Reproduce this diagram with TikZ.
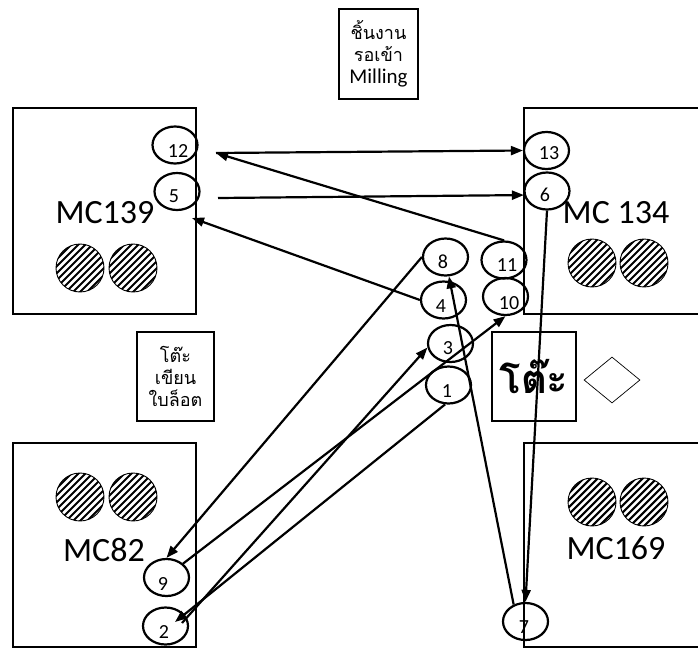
\documentclass[tikz,border=0pt]{standalone}
\usepackage{fontspec}
\setmainfont{Carlito}
\newfontfamily\thai[Script=Thai]{Loma}
\usetikzlibrary{arrows.meta,shapes.geometric}
\newcommand\hatchc[2]{%
  \begin{scope}
    \clip (#1,#2) circle[radius=24];
    \foreach \d in {-60,-53,...,60}{\draw[line width=2.1pt] ({#1+\d-30},{#2+30}) -- ({#1+\d+30},{#2-30});}
  \end{scope}
  \draw[line width=0.9pt] (#1,#2) circle[radius=24];}
\begin{document}
\begin{tikzpicture}[x=1pt,y=-1pt,
  mbox/.style={draw,line width=2.4pt,inner sep=0pt},
  numell/.style={draw,ellipse,line width=2.2pt,minimum width=45pt,minimum height=37pt,inner sep=0pt},
  numtxt/.style={font=\fontsize{20}{20}\selectfont,inner sep=0pt},
  mclabel/.style={font=\fontsize{34}{34}\selectfont,inner sep=0pt},
  thaibox/.style={mbox,align=center,font=\thai\fontsize{18}{22}\selectfont},
  conn/.style={line width=2.2pt,-{Triangle[length=12pt,width=9pt]}}]
\useasboundingbox (0,0) rectangle (698,650);
\clip (0,0) rectangle (698,650);
% machine boxes
\node[mbox,minimum width=183pt,minimum height=206pt] (b139) at (104.5,211) {};
\node[mbox,minimum width=186pt,minimum height=206pt] (b134) at (617,211) {};
\node[mbox,minimum width=183pt,minimum height=204pt] (b82) at (104.5,545) {};
\node[mbox,minimum width=186pt,minimum height=204pt] (b169) at (617,545) {};
% labels
\node[mclabel] (l139) at (105,213) {MC139};
\node[mclabel] (l134) at (616,213) {MC 134};
\node[mclabel] (l82) at (104,550) {MC82};
\node[mclabel] (l169) at (616,548) {MC169};
% hatched circles
\hatchc{80}{268}\hatchc{133}{268}
\hatchc{592}{263}\hatchc{644}{263}
\hatchc{80}{497}\hatchc{133}{497}
\hatchc{592}{502}\hatchc{644}{502}
% other boxes
\node[thaibox,minimum width=79pt,minimum height=90pt] (mill) at (378.5,54) {ชิ้นงาน\\รอเข้า\\{\fontspec{Carlito}\fontsize{21}{22}\selectfont Milling}};
\node[thaibox,minimum width=77pt,minimum height=89pt] (tab1) at (175.5,376.5) {โต๊ะ\\เขียน\\ใบล็อต};
\node[mbox,minimum width=84pt,minimum height=89pt,font=\thai\bfseries\fontsize{40}{40}\selectfont] (tab2) at (534,376.5) {โต๊ะ};
\node[draw,diamond,line width=0.7pt,minimum width=56pt,minimum height=46pt,inner sep=0pt] (dia) at (612,380) {};
% numbered ellipses
\node[numell] (n12) at (175,145) {};
\node[numell] (n5) at (177,191.5) {};
\node[numell] (n13) at (546.5,150.5) {};
\node[numell] (n6) at (547,191) {};
\node[numell] (n8) at (445.5,257) {};
\node[numell] (n11) at (504,260) {};
\node[numell] (n4) at (443.5,300) {};
\node[numell] (n10) at (505.5,296.5) {};
\node[numell] (n3) at (450.5,343.5) {};
\node[numell] (n1) at (448.5,385) {};
\node[numell] (n9) at (166.5,577.5) {};
\node[numell] (n2) at (165.5,626) {};
\node[numell] (n7) at (525.5,621.5) {};
\node[numtxt] (t12) at (178,151) {12};
\node[numtxt] (t5) at (174,196) {5};
\node[numtxt] (t13) at (549,153) {13};
\node[numtxt] (t6) at (545,195) {6};
\node[numtxt] (t8) at (443,262) {8};
\node[numtxt] (t11) at (507,265) {11};
\node[numtxt] (t4) at (441,306) {4};
\node[numtxt] (t10) at (509,303) {10};
\node[numtxt] (t3) at (448,348) {3};
\node[numtxt] (t1) at (447,391) {1};
\node[numtxt] (t9) at (163,584) {9};
\node[numtxt] (t2) at (164,632) {2};
\node[numtxt] (t7) at (524,627) {7};
% connector free ends
\coordinate (p12) at (216,153);
\coordinate (p5) at (218,198);
\coordinate (q5) at (192,218);
\coordinate (p2a) at (175,622);
\coordinate (p2b) at (182,623);
% connectors
\draw[conn] (n1.-100) -- (p2a);
\draw[conn] (p2b) -- (n3.190);
\draw[conn] (n4.west) -- (q5);
\draw[conn] (p5) -- (n6.190);
\draw[conn] (n6.south) -- (n7.north);
\draw[conn] (n7.125) -- (n8.-80);
\draw[conn] (n8.west) -- (n9.north);
\draw[conn] (n9.40) -- (n10.south);
\draw[conn] (n11.north) -- (p12);
\draw[conn] (p12) -- (n13.west);
\end{tikzpicture}
\end{document}
